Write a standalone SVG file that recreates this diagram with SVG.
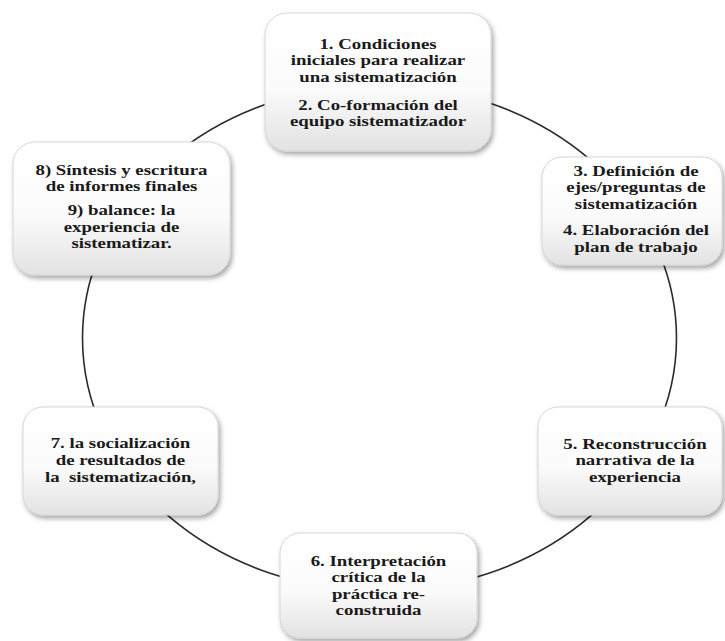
<svg xmlns="http://www.w3.org/2000/svg" width="725" height="641" viewBox="0 0 725 641">
<defs>
<linearGradient id="g" x1="0" y1="0" x2="0" y2="1">
<stop offset="0" stop-color="#ffffff"/>
<stop offset="0.55" stop-color="#fbfbfb"/>
<stop offset="1" stop-color="#e2e2e2"/>
</linearGradient>
<filter id="sh" x="-10%" y="-10%" width="125%" height="130%">
<feDropShadow dx="2" dy="3" stdDeviation="2.5" flood-color="#000" flood-opacity="0.35"/>
</filter>
</defs>
<style>
.box{fill:url(#g);stroke:#d6d6d6;stroke-width:1;filter:url(#sh)}
.t{font-weight:bold;font-size:14.5px;fill:#1a1a1a;text-anchor:middle;white-space:pre}
.c{fill:none;stroke:#2b2b2b;stroke-width:1.6}
</style>
<rect width="725" height="641" fill="#ffffff"/>
<g id="connectors">
<ellipse class="c" cx="379.5" cy="338" rx="297" ry="253"/>
</g>
<g id="n1">
<rect class="box" x="265" y="13" width="226" height="138" rx="22"/>
<g transform="translate(378,0) scale(1.3,1)" font-family="Liberation Serif, Times New Roman, serif">
<text class="t" x="0" y="49">1. Condiciones</text>
<text class="t" x="0" y="65.5">iniciales para realizar</text>
<text class="t" x="0" y="82">una sistematización</text>
<text class="t" x="0" y="110">2. Co-formación del</text>
<text class="t" x="0" y="126.5">equipo sistematizador</text>
</g>
</g>
<g id="n3">
<rect class="box" x="542" y="157" width="180" height="108" rx="20"/>
<g transform="translate(636,0) scale(1.3,1)" font-family="Liberation Serif, Times New Roman, serif">
<text class="t" x="0" y="176">3. Definición de</text>
<text class="t" x="0" y="192.5">ejes/preguntas de</text>
<text class="t" x="0" y="209">sistematización</text>
<text class="t" x="0" y="235.5">4. Elaboración del</text>
<text class="t" x="0" y="252">plan de trabajo</text>
</g>
</g>
<g id="n5">
<rect class="box" x="538" y="407" width="184" height="108" rx="20"/>
<g transform="translate(635,0) scale(1.3,1)" font-family="Liberation Serif, Times New Roman, serif">
<text class="t" x="0" y="449">5. Reconstrucción</text>
<text class="t" x="0" y="465.5">narrativa de la</text>
<text class="t" x="0" y="482">experiencia</text>
</g>
</g>
<g id="n6">
<rect class="box" x="280" y="533" width="197" height="105" rx="20"/>
<g transform="translate(378.5,0) scale(1.3,1)" font-family="Liberation Serif, Times New Roman, serif">
<text class="t" x="0" y="566">6. Interpretación</text>
<text class="t" x="0" y="582.5">crítica de la</text>
<text class="t" x="0" y="599">práctica re-</text>
<text class="t" x="0" y="615.5">construida</text>
</g>
</g>
<g id="n7">
<rect class="box" x="23" y="407" width="195" height="108" rx="20"/>
<g transform="translate(120.5,0) scale(1.3,1)" font-family="Liberation Serif, Times New Roman, serif">
<text class="t" x="0" y="448">7. la socialización</text>
<text class="t" x="0" y="465">de resultados de</text>
<text class="t" x="0" y="482">la  sistematización,</text>
</g>
</g>
<g id="n8">
<rect class="box" x="13" y="142" width="217" height="133" rx="22"/>
<g transform="translate(121.5,0) scale(1.3,1)" font-family="Liberation Serif, Times New Roman, serif">
<text class="t" x="0" y="175">8) Síntesis y escritura</text>
<text class="t" x="0" y="191.5">de informes finales</text>
<text class="t" x="0" y="215.5">9) balance: la</text>
<text class="t" x="0" y="232">experiencia de</text>
<text class="t" x="0" y="248.5">sistematizar.</text>
</g>
</g>
</svg>
